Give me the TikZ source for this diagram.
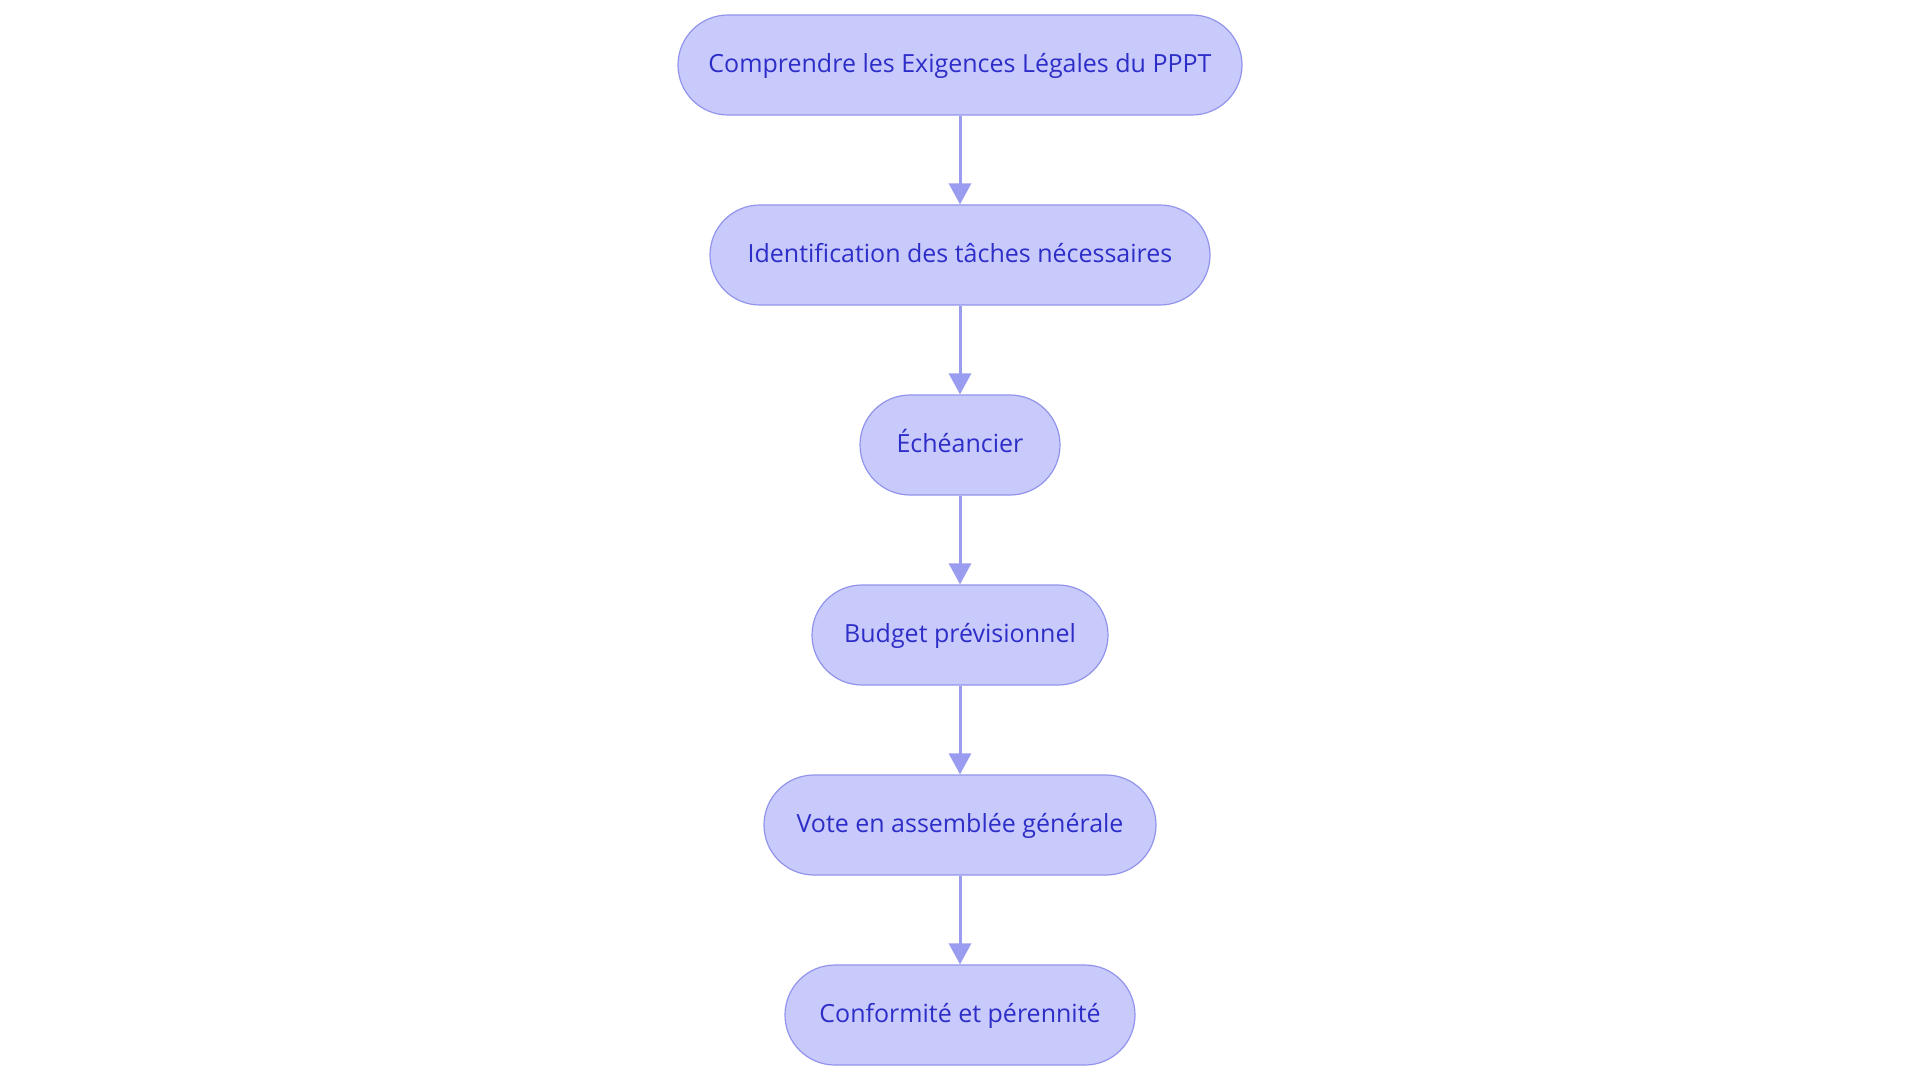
\documentclass[tikz,border=0pt]{standalone}
\usepackage{fontspec}
\setmainfont{Open Sans}
\usetikzlibrary{arrows.meta}
\definecolor{nodefill}{HTML}{C9CAFC}
\definecolor{nodeborder}{HTML}{9294EC}
\definecolor{nodetext}{HTML}{2D2DC8}
\definecolor{arrowcol}{HTML}{9A9CF0}
\begin{document}
\begin{tikzpicture}[x=1pt,y=1pt,
  flowbox/.style={draw=nodeborder, line width=1.2pt, fill=nodefill, text=nodetext,
    rounded corners=50pt, minimum height=100pt, inner sep=0pt,
    text height=17pt, text depth=2pt,
    font=\fontsize{25}{30}\selectfont},
  flowarrow/.style={draw=arrowcol, line width=3pt,
    -{Triangle[length=21pt,width=22pt]}}]
\path[use as bounding box, fill=white] (0,0) rectangle (1920,-1083);
\node[flowbox, minimum width=564pt] (n1) at (960,-65) {Comprendre les Exigences Légales du PPPT};
\node[flowbox, minimum width=500pt] (n2) at (960,-255) {Identification des tâches nécessaires};
\node[flowbox, minimum width=200pt] (n3) at (960,-445) {Échéancier};
\node[flowbox, minimum width=296pt] (n4) at (960,-635) {Budget prévisionnel};
\node[flowbox, minimum width=392pt] (n5) at (960,-825) {Vote en assemblée générale};
\node[flowbox, minimum width=350pt] (n6) at (960,-1015) {Conformité et pérennité};
\draw[flowarrow] (n1) -- (n2);
\draw[flowarrow] (n2) -- (n3);
\draw[flowarrow] (n3) -- (n4);
\draw[flowarrow] (n4) -- (n5);
\draw[flowarrow] (n5) -- (n6);
\end{tikzpicture}
\end{document}
